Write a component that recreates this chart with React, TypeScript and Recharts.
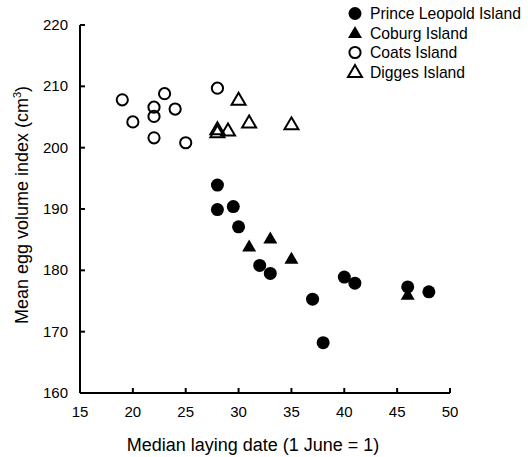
import React from 'react';
import { ScatterChart, Scatter, XAxis, YAxis } from 'recharts';

// median laying date (x) vs mean egg volume index (y)
const princeLeopold = [
  { x: 28, y: 193.9 },
  { x: 28, y: 189.9 },
  { x: 29.5, y: 190.4 },
  { x: 30, y: 187.1 },
  { x: 32, y: 180.8 },
  { x: 33, y: 179.5 },
  { x: 37, y: 175.3 },
  { x: 38, y: 168.2 },
  { x: 40, y: 178.9 },
  { x: 41, y: 177.9 },
  { x: 46, y: 177.3 },
  { x: 48, y: 176.5 },
];

const coburg = [
  { x: 31, y: 183.9 },
  { x: 33, y: 185.2 },
  { x: 35, y: 181.9 },
  { x: 46, y: 176.0 },
];

const coats = [
  { x: 19, y: 207.8 },
  { x: 20, y: 204.2 },
  { x: 22, y: 206.6 },
  { x: 22, y: 205.1 },
  { x: 22, y: 201.6 },
  { x: 23, y: 208.8 },
  { x: 24, y: 206.3 },
  { x: 25, y: 200.8 },
  { x: 28, y: 209.7 },
];

const digges = [
  { x: 28, y: 202.5 },
  { x: 28, y: 203.0 },
  { x: 29, y: 202.8 },
  { x: 30, y: 207.8 },
  { x: 31, y: 204.1 },
  { x: 35, y: 203.8 },
];

const xTicks = [15, 20, 25, 30, 35, 40, 45, 50];
const yTicks = [160, 170, 180, 190, 200, 210, 220];

const legendNames = ['Prince Leopold Island', 'Coburg Island', 'Coats Island', 'Digges Island'];

const W = 528;
const H = 457;
const LEFT = 80;
const BOTTOM = 393;
const FONT = '"Liberation Sans", Arial, sans-serif';

const triPts = (cx: number, cy: number) =>
  `${cx},${cy - 7} ${cx + 7},${cy + 5} ${cx - 7},${cy + 5}`;

const FilledCircle = (p: any) => <circle cx={p.cx} cy={p.cy} r={6.5} fill="#000" />;
const OpenCircle = (p: any) => (
  <circle cx={p.cx} cy={p.cy} r={5.6} fill="none" stroke="#000" strokeWidth={2} />
);
const FilledTri = (p: any) => <polygon points={triPts(p.cx, p.cy)} fill="#000" />;
const OpenTri = (p: any) => (
  <polygon points={triPts(p.cx, p.cy)} fill="none" stroke="#000" strokeWidth={2} strokeLinejoin="miter" />
);

const markers = [FilledCircle, FilledTri, OpenCircle, OpenTri];

const XTick = (props: any) => {
  const { x, payload } = props;
  return (
    <g>
      <line x1={x} y1={BOTTOM} x2={x} y2={BOTTOM - 5} stroke="#000" strokeWidth={2} />
      <text x={x} y={417} textAnchor="middle" fontSize={15} fill="#000" fontFamily={FONT}>
        {payload.value}
      </text>
    </g>
  );
};

const YTick = (props: any) => {
  const { y, payload } = props;
  return (
    <g>
      <line x1={LEFT} y1={y} x2={LEFT + 5} y2={y} stroke="#000" strokeWidth={2} />
      <text x={68} y={y + 5} textAnchor="end" fontSize={15} fill="#000" fontFamily={FONT}>
        {payload.value}
      </text>
    </g>
  );
};

export default function App() {
  return (
    <div
      style={{
        position: 'absolute',
        left: 0,
        top: 0,
        width: W,
        height: H,
        background: '#fff',
        fontFamily: FONT,
      }}
    >
      <ScatterChart width={W} height={H} margin={{ top: 25, right: 78, bottom: 0, left: 0 }}>
        <XAxis
          type="number"
          dataKey="x"
          domain={[15, 50]}
          ticks={xTicks}
          interval={0}
          height={64}
          axisLine={{ stroke: '#000', strokeWidth: 2 }}
          tickLine={false}
          tickSize={0}
          tickMargin={0}
          tick={<XTick />}
        />
        <YAxis
          type="number"
          dataKey="y"
          domain={[160, 220]}
          ticks={yTicks}
          interval={0}
          width={80}
          axisLine={{ stroke: '#000', strokeWidth: 2 }}
          tickLine={false}
          tickSize={0}
          tickMargin={0}
          tick={<YTick />}
        />
        <Scatter data={coats} shape={OpenCircle} isAnimationActive={false} />
        <Scatter data={digges} shape={OpenTri} isAnimationActive={false} />
        <Scatter data={coburg} shape={FilledTri} isAnimationActive={false} />
        <Scatter data={princeLeopold} shape={FilledCircle} isAnimationActive={false} />
      </ScatterChart>
      <svg
        width={W}
        height={H}
        style={{ position: 'absolute', left: 0, top: 0, pointerEvents: 'none' }}
      >
        {legendNames.map((name, i) => {
          const Mark = markers[i];
          const cy = 13.5 + i * 19.5;
          return (
            <g key={name}>
              <Mark cx={355} cy={cy} />
              <text x={370} y={cy + 5.5} fontSize={15.7} fill="#000" fontFamily={FONT}>
                {name}
              </text>
            </g>
          );
        })}
        <text x={253} y={451} textAnchor="middle" fontSize={18} fill="#000" fontFamily={FONT}>
          Median laying date (1 June = 1)
        </text>
        <text
          transform="translate(28, 205) rotate(-90)"
          textAnchor="middle"
          fontSize={18}
          fill="#000"
          fontFamily={FONT}
        >
          Mean egg volume index (cm
          <tspan fontSize={11} dy={-7}>3</tspan>
          <tspan dy={7}>)</tspan>
        </text>
      </svg>
    </div>
  );
}
